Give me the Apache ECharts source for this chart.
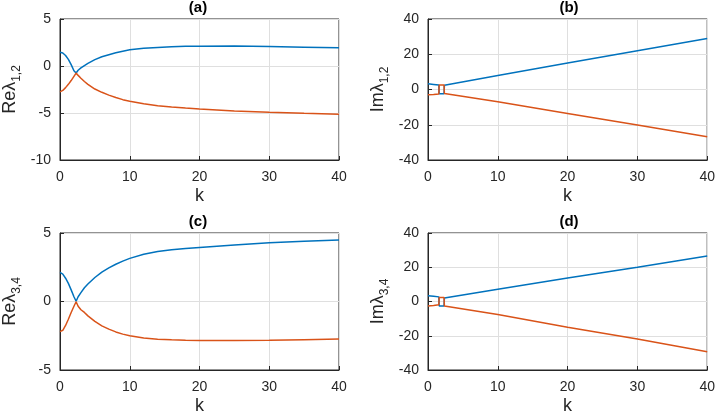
<!DOCTYPE html>
<html>
<head>
<meta charset="utf-8">
<script src="https://cdn.jsdelivr.net/npm/echarts@6/dist/echarts.min.js"></script>
<style>
html,body{margin:0;padding:0;background:#fff;}
#chart{width:718px;height:416px;}
</style>
</head>
<body>
<div id="chart"></div>
<script>
// ---- Data ----
var panelTitles = ['(a)', '(b)', '(c)', '(d)'];
var xTicks = [0, 10, 20, 30, 40];

// Panels (a) and (c): shared k samples
var kRe = [0, 0.4, 0.8, 1.2, 1.6, 2.0, 2.31, 2.6, 3, 3.5, 4, 5, 6, 7, 8, 9, 10, 12, 14, 16, 18, 20, 25, 30, 35, 40];
var reL12Blue = [1.47, 1.38, 1.12, 0.7, 0.15, -0.5, -0.75, -0.45, -0.2, 0.05, 0.28, 0.68, 0.98, 1.2, 1.4, 1.58, 1.72, 1.88, 1.98, 2.05, 2.09, 2.1, 2.12, 2.07, 2.0, 1.93];
var reL12Orange = [-2.75, -2.6, -2.3, -1.95, -1.55, -1.1, -0.75, -1.0, -1.3, -1.65, -1.95, -2.45, -2.8, -3.1, -3.35, -3.58, -3.75, -4.02, -4.22, -4.37, -4.48, -4.58, -4.78, -4.92, -5.03, -5.12];
var reL34Blue = [2.12, 2.0, 1.7, 1.32, 0.85, 0.35, 0.02, 0.35, 0.65, 1.0, 1.28, 1.75, 2.15, 2.45, 2.72, 2.95, 3.15, 3.45, 3.65, 3.78, 3.87, 3.94, 4.12, 4.28, 4.4, 4.48];
var reL34Orange = [-2.2, -2.1, -1.75, -1.3, -0.8, -0.35, -0.02, -0.35, -0.6, -0.8, -1.05, -1.45, -1.78, -2.02, -2.22, -2.38, -2.5, -2.66, -2.75, -2.8, -2.83, -2.84, -2.85, -2.83, -2.79, -2.74];

// Panels (b) and (d): k samples (eigenvalue swap between k=1.6 and k=2.3)
var kIm = [0, 0.8, 1.55, 1.6, 2.3, 2.35, 10, 20, 30, 40];
var imL12Blue = [3.2, 2.9, 2.5, -2.4, -2.4, 2.4, 7.9, 15.0, 22.0, 28.9];
var imL12Orange = [-3.0, -2.8, -2.5, 2.5, 2.5, -2.3, -7.0, -13.6, -20.2, -26.8];
var imL34Blue = [3.4, 3.1, 2.7, -2.6, -2.6, 2.0, 7.2, 13.7, 20.0, 26.6];
var imL34Orange = [-2.6, -2.3, -1.9, 2.3, 2.3, -2.6, -7.6, -15.0, -21.9, -29.3];

var yMins = [-10, -40, -5, -40];
var yMaxs = [5, 40, 5, 40];
var yIntervals = [5, 20, 5, 20];
var yNames = ['{m|Reλ}{s|1,2}', '{m|Imλ}{s|1,2}', '{m|Reλ}{s|3,4}', '{m|Imλ}{s|3,4}'];

// ---- Layout ----
var BLUE = '#0072BD', ORANGE = '#D95319', AX = '#262626';
var FONT = 'Liberation Sans, Arial, Helvetica, sans-serif';
var grids = [
  {left: 57, top: 19, width: 282, height: 141},
  {left: 428, top: 19, width: 282, height: 141},
  {left: 57, top: 233, width: 282, height: 140},
  {left: 428, top: 233, width: 282, height: 140}
];

function pairs(xs, ys) { return xs.map(function (x, i) { return [x, ys[i]]; }); }
var seriesData = [
  [pairs(kRe, reL12Blue), pairs(kRe, reL12Orange)],
  [pairs(kIm, imL12Blue), pairs(kIm, imL12Orange)],
  [pairs(kRe, reL34Blue), pairs(kRe, reL34Orange)],
  [pairs(kIm, imL34Blue), pairs(kIm, imL34Orange)]
];

var option = {
  animation: false,
  backgroundColor: '#fff',
  textStyle: {fontFamily: FONT},
  title: [], grid: [], xAxis: [], yAxis: [], series: []
};

grids.forEach(function (g, i) {
  option.grid.push({left: g.left, top: g.top, width: g.width, height: g.height, show: true,
    borderColor: AX, borderWidth: 1, backgroundColor: 'transparent', containLabel: false});
  option.title.push({
    text: panelTitles[i], left: g.left + g.width / 2, top: g.top - 19, textAlign: 'center', padding: 0,
    textStyle: {fontSize: 15, fontWeight: 'bold', color: '#000', fontFamily: FONT}
  });
  option.xAxis.push({
    type: 'value', gridIndex: i, min: xTicks[0], max: xTicks[xTicks.length - 1], interval: 10,
    name: 'k', nameLocation: 'middle', nameGap: 27,
    nameTextStyle: {fontSize: 18, color: '#262626', fontFamily: FONT},
    axisLine: {show: true, onZero: false, lineStyle: {color: AX, width: 1}},
    axisTick: {show: true, inside: true, length: 4, lineStyle: {color: AX}},
    axisLabel: {fontSize: 14, color: '#262626', margin: 10, fontFamily: FONT},
    splitLine: {show: true, lineStyle: {color: '#dfdfdf', width: 1}}
  });
  option.yAxis.push({
    type: 'value', gridIndex: i, min: yMins[i], max: yMaxs[i], interval: yIntervals[i],
    name: yNames[i], nameLocation: 'middle', nameGap: 35, nameRotate: 90,
    nameTextStyle: {
      color: '#262626', fontFamily: FONT,
      rich: {
        m: {fontSize: 18, color: '#262626', fontFamily: FONT, lineHeight: 24, verticalAlign: 'top', padding: [0, 0, 0, 0]},
        s: {fontSize: 12, color: '#262626', fontFamily: FONT, lineHeight: 24, verticalAlign: 'top', padding: [10, 0, 0, 0]}
      }
    },
    axisLine: {show: true, onZero: false, lineStyle: {color: AX, width: 1}},
    axisTick: {show: true, inside: true, length: 4, lineStyle: {color: AX}},
    axisLabel: {fontSize: 14, color: '#262626', margin: 9, fontFamily: FONT},
    splitLine: {show: true, lineStyle: {color: '#dfdfdf', width: 1}}
  });
  option.series.push({
    type: 'line', xAxisIndex: i, yAxisIndex: i, data: seriesData[i][0], showSymbol: false,
    lineStyle: {color: BLUE, width: 1.5}, itemStyle: {color: BLUE}, smooth: false
  });
  option.series.push({
    type: 'line', xAxisIndex: i, yAxisIndex: i, data: seriesData[i][1], showSymbol: false,
    lineStyle: {color: ORANGE, width: 1.5}, itemStyle: {color: ORANGE}, smooth: false
  });
});

var chart = echarts.init(document.getElementById('chart'), null, {renderer: 'canvas'});
chart.setOption(option);
</script>
</body>
</html>
